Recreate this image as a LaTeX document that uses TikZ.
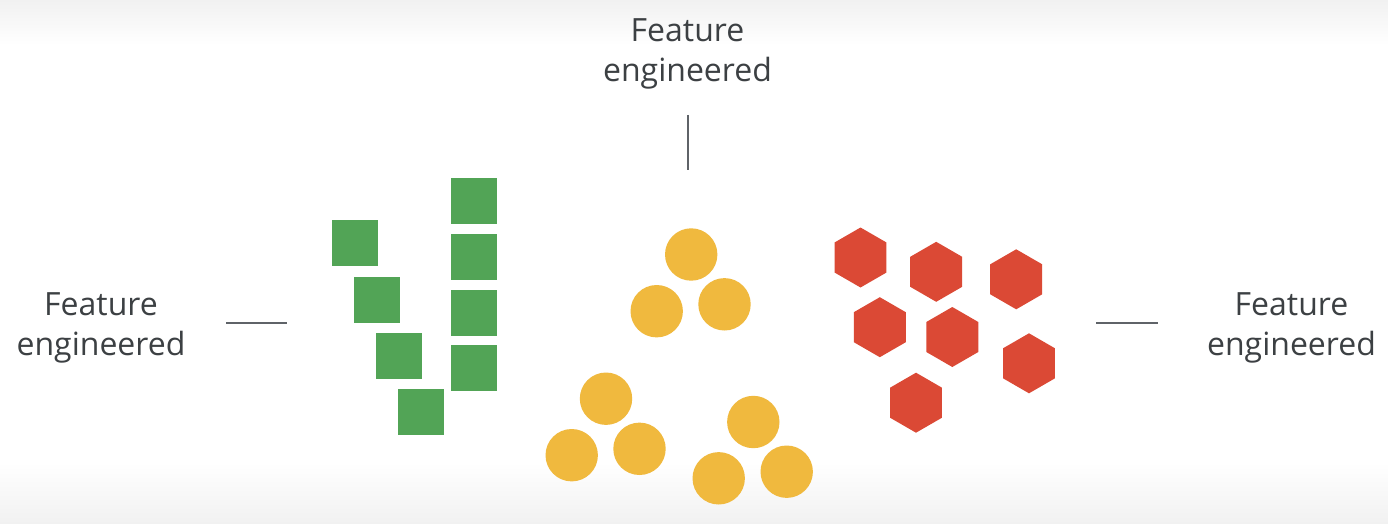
\documentclass[tikz,border=0pt]{standalone}
\usepackage{fontspec}
\setmainfont{Open Sans}
\usetikzlibrary{shapes.geometric}
\definecolor{sqgreen}{HTML}{52A456}
\definecolor{dotyellow}{HTML}{F0B93E}
\definecolor{hexred}{HTML}{DB4935}
\definecolor{txtgray}{HTML}{3C4043}
\definecolor{linegray}{HTML}{5F6368}
\definecolor{bggray}{HTML}{F1F1F1}
\tikzset{
  sq/.style={rectangle, fill=sqgreen, draw=none, inner sep=0pt, minimum size=46pt},
  dot/.style={circle, fill=dotyellow, draw=none, inner sep=0pt, minimum size=52.4pt},
  hexa/.style={regular polygon, regular polygon sides=6, shape border rotate=30, fill=hexred, draw=none, inner sep=0pt, minimum size=60pt},
  lbl/.style={align=center, text=txtgray, font=\fontsize{32}{40}\selectfont, inner sep=0pt, anchor=base},
  tick/.style={draw=linegray, line width=1.7pt}
}
\begin{document}
\begin{tikzpicture}[x=1pt, y=-1pt]
\useasboundingbox (0,0) rectangle (1388,524);
\fill[white] (0,0) rectangle (1388,524);
\shade[top color=bggray, bottom color=white] (0,0) rectangle (1388,45);
\shade[top color=white, bottom color=bggray] (0,462) rectangle (1388,524);
% labels
\node[lbl] (ltxt) at (101,355) {Feature\\engineered};
\node[lbl] (ttxt) at (687.5,81.7) {Feature\\engineered};
\node[lbl] (rtxt) at (1291.5,355) {Feature\\engineered};
% ticks
\coordinate (l1) at (226,323.3); \coordinate (l2) at (286.7,323.3);
\coordinate (t1) at (688.3,115); \coordinate (t2) at (688.3,170);
\coordinate (r1) at (1096,323.3); \coordinate (r2) at (1158,323.3);
\draw[tick] (l1) -- (l2);
\draw[tick] (t1) -- (t2);
\draw[tick] (r1) -- (r2);
% squares
\node[sq] (s1) at (354.5,243) {};
\node[sq] (s2) at (377,299.5) {};
\node[sq] (s3) at (399.3,355.7) {};
\node[sq] (s4) at (421.3,412) {};
\node[sq] (s5) at (474,200.8) {};
\node[sq] (s6) at (474,256.7) {};
\node[sq] (s7) at (474,312.5) {};
\node[sq] (s8) at (474,368.2) {};
% circles
\node[dot] (c1) at (691.2,254.5) {};
\node[dot] (c2) at (656.7,311.2) {};
\node[dot] (c3) at (724.5,304.3) {};
\node[dot] (c4) at (606,398.7) {};
\node[dot] (c5) at (571.7,455.2) {};
\node[dot] (c6) at (639.5,448.8) {};
\node[dot] (c7) at (753.3,422) {};
\node[dot] (c8) at (718.7,478.3) {};
\node[dot] (c9) at (786.7,471.7) {};
% hexagons
\node[hexa] (h1) at (860.5,257.5) {};
\node[hexa] (h2) at (936.2,271.8) {};
\node[hexa] (h3) at (1016.2,279.3) {};
\node[hexa] (h4) at (879.8,327.2) {};
\node[hexa] (h5) at (952.3,337) {};
\node[hexa] (h6) at (1029,363.3) {};
\node[hexa] (h7) at (916,402.7) {};
\end{tikzpicture}
\end{document}
